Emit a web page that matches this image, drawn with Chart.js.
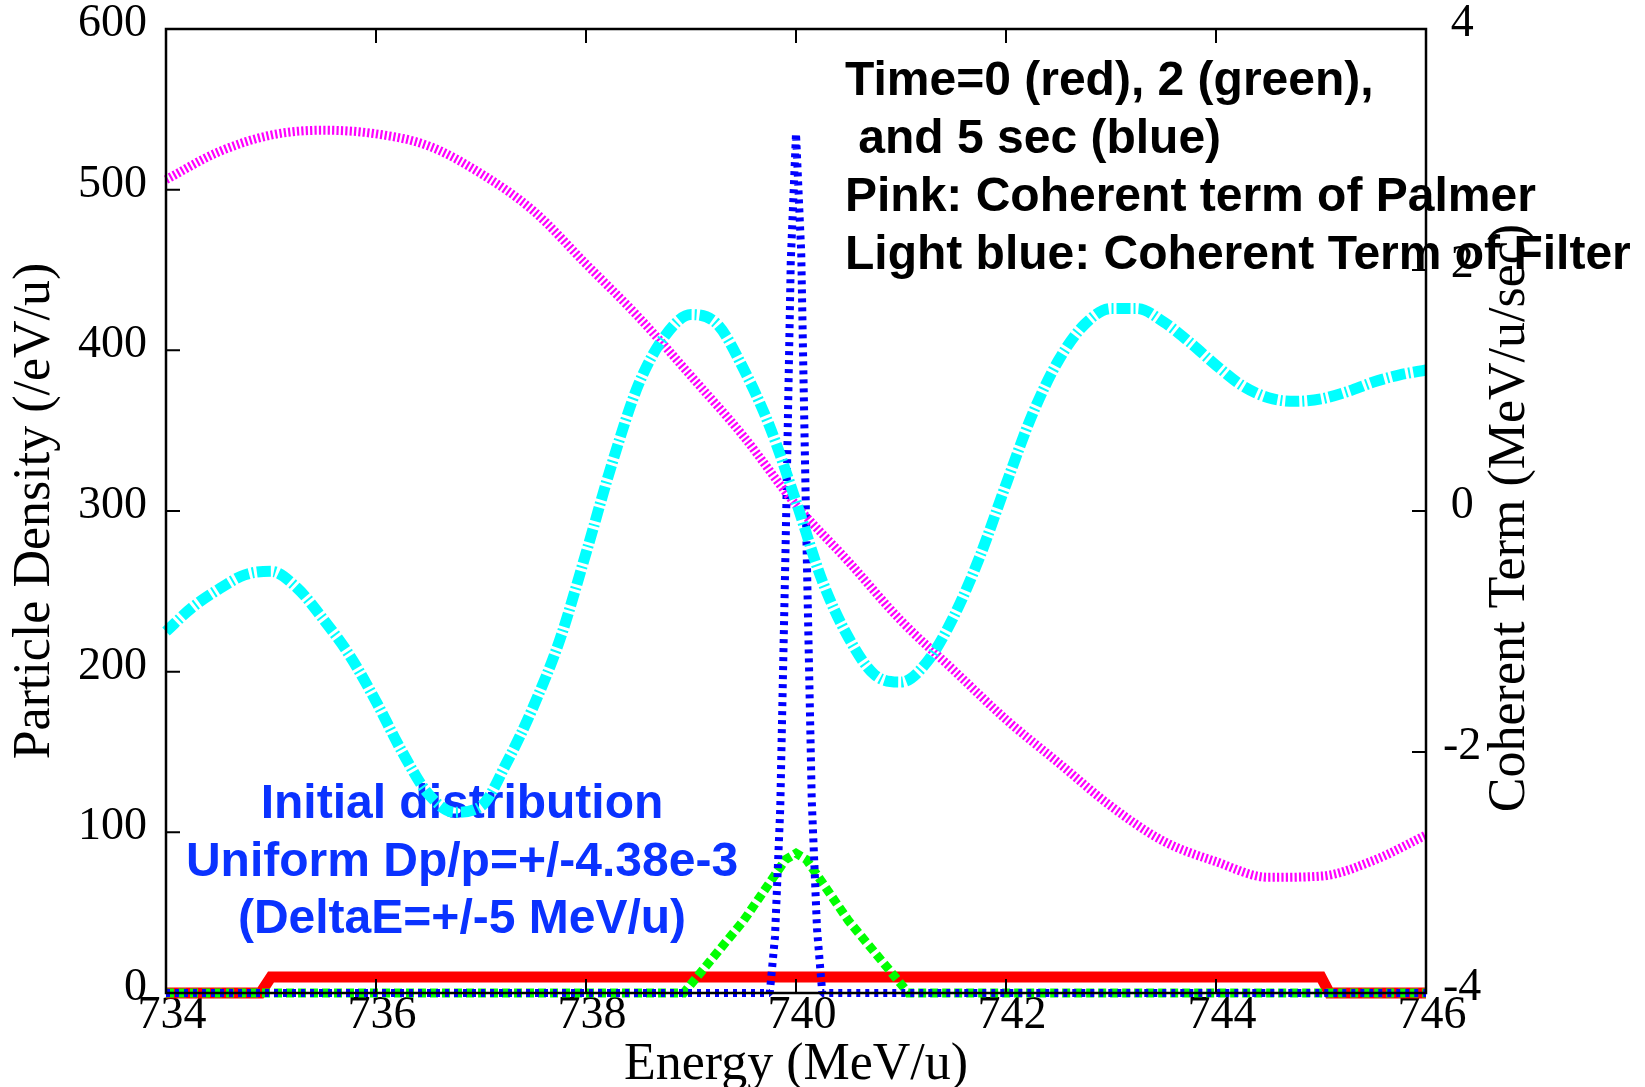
<!DOCTYPE html>
<html>
<head>
<meta charset="utf-8">
<script src="https://cdn.jsdelivr.net/npm/chart.js@4.4.1/dist/chart.umd.min.js"></script>
<style>
  html, body { margin: 0; padding: 0; background: #fff; }
  #wrap { width: 1645px; height: 1087px; position: relative; }
</style>
</head>
<body>
<div id="wrap"><canvas id="chart"></canvas></div>
<script>
// axis ticks
const energyTicks = [734, 736, 738, 740, 742, 744, 746];
const densityTicks = [0, 100, 200, 300, 400, 500, 600];
const termTicks = [-4, -2, 0, 2, 4];

// time 0 (red) - uniform initial distribution
const redE = [734, 734.9, 735, 745, 745.08, 746];
const redDensity = [0, 0, 10, 10, 0, 0];

// time 2 sec (green)
const greenE = [734, 738.93, 739.5, 739.9, 740, 740.1, 740.5, 741.07, 746];
const greenDensity = [0, 0, 45, 83, 87, 83, 45, 0, 0];

// time 5 sec (blue)
const blueE = [734, 739.75, 739.8, 739.85, 739.9, 739.95, 740, 740.05, 740.1, 740.15, 740.2, 740.25, 746];
const blueDensity = [0, 0, 35, 115, 275, 455, 535, 460, 280, 120, 40, 0, 0];

// pink: coherent term of Palmer (MeV/u/sec)
const pinkE = [734, 734.5, 735, 735.5, 736, 736.5, 737, 737.5, 738, 738.5, 739, 739.5, 740,
               740.5, 741, 741.5, 742, 742.5, 743, 743.5, 744, 744.5, 745, 745.5, 746];
const palmerTerm = [2.75, 2.98, 3.12, 3.16, 3.13, 3.03, 2.80, 2.49, 2.05, 1.61, 1.12, 0.62, 0.05,
                    -0.42, -0.91, -1.32, -1.73, -2.09, -2.45, -2.74, -2.91, -3.04, -3.03, -2.90, -2.69];

// light blue: coherent term of filter (MeV/u/sec)
const cyanE = [734, 734.25, 734.5, 734.75, 735, 735.25, 735.5, 735.75, 736, 736.25, 736.5, 736.75,
               737, 737.25, 737.5, 737.75, 738, 738.25, 738.5, 738.75, 739, 739.25, 739.5, 739.75,
               740, 740.25, 740.5, 740.75, 741, 741.25, 741.5, 741.75, 742, 742.25, 742.5, 742.75,
               743, 743.25, 743.5, 743.75, 744, 744.25, 744.5, 744.75, 745, 745.25, 745.5, 745.75, 746];
const filterTerm = [-1.00, -0.80, -0.65, -0.53, -0.50, -0.64, -0.90, -1.20, -1.58, -2.00, -2.35, -2.50,
                    -2.45, -2.08, -1.62, -1.07, -0.35, 0.40, 1.05, 1.45, 1.63, 1.55, 1.18, 0.70,
                    0.08, -0.58, -1.05, -1.36, -1.42, -1.25, -0.88, -0.38, 0.22, 0.80, 1.25, 1.55,
                    1.68, 1.68, 1.57, 1.40, 1.21, 1.04, 0.94, 0.91, 0.93, 0.99, 1.07, 1.13, 1.17];

const blackNote = ['Time=0 (red), 2 (green),', ' and 5 sec (blue)',
                   'Pink: Coherent term of Palmer', 'Light blue: Coherent Term of Filter'];
const blueNote = ['Initial distribution', 'Uniform Dp/p=+/-4.38e-3', '(DeltaE=+/-5 MeV/u)'];

function pts(xs, ys) {
    return xs.map((x, i) => ({x: x, y: ys[i]}));
}

const serif = "'Liberation Serif', 'Times New Roman', serif";
const sans = "'Liberation Sans', Arial, sans-serif";

// text drawn under the curves
const notes = {
    id: 'notes',
    beforeDatasetsDraw(chart) {
        const ctx = chart.ctx;
        ctx.save();
        ctx.textBaseline = 'middle';
        ctx.font = 'bold 48px ' + sans;
        ctx.fillStyle = '#000';
        ctx.textAlign = 'left';
        blackNote.forEach((s, i) => ctx.fillText(s, 845, 82 + i * 58));
        ctx.fillStyle = '#0a32ff';
        ctx.textAlign = 'center';
        blueNote.forEach((s, i) => ctx.fillText(s, 462, 805 + i * 57.5));

        // axis titles
        const a = chart.chartArea;
        ctx.fillStyle = '#000';
        ctx.font = '52px ' + serif;
        ctx.textAlign = 'center';
        ctx.textBaseline = 'alphabetic';
        ctx.fillText('Energy (MeV/u)', (a.left + a.right) / 2, 1079);
        ctx.textBaseline = 'middle';
        ctx.save();
        ctx.translate(35, (a.top + a.bottom) / 2);
        ctx.rotate(-Math.PI / 2);
        ctx.fillText('Particle Density (/eV/u)', 0, 0);
        ctx.restore();
        ctx.save();
        ctx.translate(1510, (a.top + a.bottom) / 2 + 7);
        ctx.rotate(-Math.PI / 2);
        ctx.fillText('Coherent Term (MeV/u/sec)', 0, 0);
        ctx.restore();
        ctx.restore();
    }
};

// border and inward ticks
const frame = {
    id: 'frame',
    afterDatasetsDraw(chart) {
        const {ctx, chartArea: a, scales} = chart;
        const len = 14;
        ctx.save();
        ctx.strokeStyle = '#000';
        ctx.lineWidth = 2;
        ctx.beginPath();
        scales.x.ticks.forEach(t => {
            const px = scales.x.getPixelForValue(t.value);
            ctx.moveTo(px, a.bottom); ctx.lineTo(px, a.bottom - len);
            ctx.moveTo(px, a.top); ctx.lineTo(px, a.top + len);
        });
        scales.y.ticks.forEach(t => {
            const py = scales.y.getPixelForValue(t.value);
            ctx.moveTo(a.left, py); ctx.lineTo(a.left + len, py);
        });
        scales.y1.ticks.forEach(t => {
            const py = scales.y1.getPixelForValue(t.value);
            ctx.moveTo(a.right, py); ctx.lineTo(a.right - len, py);
        });
        ctx.stroke();
        ctx.lineWidth = 2.5;
        ctx.strokeRect(a.left, a.top, a.right - a.left, a.bottom - a.top);
        ctx.restore();
    }
};

const tickFont = {family: serif, size: 46, lineHeight: 1};

function fixWidth(w) {
    return s => { s.width = w; s.paddingTop = 0; s.paddingBottom = 0; };
}

new Chart(document.getElementById('chart'), {
    type: 'line',
    data: {
        datasets: [{
            data: pts(redE, redDensity),
            yAxisID: 'y',
            borderColor: '#ff0000',
            borderWidth: 11,
            order: 5
        }, {
            data: pts(greenE, greenDensity),
            yAxisID: 'y',
            borderColor: '#00ff00',
            borderWidth: 9,
            borderDash: [8, 4],
            order: 4
        }, {
            data: pts(blueE, blueDensity),
            yAxisID: 'y',
            borderColor: '#0000ff',
            borderWidth: 8,
            borderDash: [4, 5],
            borderJoinStyle: 'bevel',
            order: 3
        }, {
            data: pts(pinkE, palmerTerm),
            yAxisID: 'y1',
            borderColor: '#ff00ff',
            borderWidth: 9,
            borderDash: [2.2, 2.2],
            cubicInterpolationMode: 'monotone',
            order: 2
        }, {
            data: pts(cyanE, filterTerm),
            yAxisID: 'y1',
            borderColor: '#00ffff',
            borderWidth: 11,
            borderDash: [14, 3, 2, 3],
            cubicInterpolationMode: 'monotone',
            order: 1
        }]
    },
    options: {
        responsive: true,
        maintainAspectRatio: false,
        animation: false,
        events: [],
        clip: false,
        elements: { point: { radius: 0 } },
        layout: { padding: { top: 29, left: 0, right: 0, bottom: 0 } },
        plugins: { legend: { display: false }, tooltip: { enabled: false } },
        scales: {
            x: {
                type: 'linear',
                min: energyTicks[0],
                max: energyTicks[energyTicks.length - 1],
                afterBuildTicks: s => { s.ticks = energyTicks.map(v => ({value: v})); },
                afterFit: s => { s.height = 94; },
                grid: { display: false, drawTicks: false },
                border: { display: false },
                ticks: { font: tickFont, color: '#000', padding: 0, labelOffset: 6, maxRotation: 0, autoSkip: false }
            },
            y: {
                position: 'left',
                min: densityTicks[0],
                max: densityTicks[densityTicks.length - 1],
                afterBuildTicks: s => { s.ticks = densityTicks.map(v => ({value: v})); },
                afterFit: fixWidth(166),
                grid: { display: false, drawTicks: false },
                border: { display: false },
                ticks: { font: tickFont, color: '#000', padding: 19, labelOffset: -5 }
            },
            y1: {
                position: 'right',
                min: termTicks[0],
                max: termTicks[termTicks.length - 1],
                afterBuildTicks: s => { s.ticks = termTicks.map(v => ({value: v})); },
                afterFit: fixWidth(219),
                grid: { display: false, drawTicks: false },
                border: { display: false },
                ticks: { font: tickFont, color: '#000', padding: 17, crossAlign: 'center', labelOffset: -5 }
            }
        }
    },
    plugins: [notes, frame]
});
</script>
</body>
</html>
